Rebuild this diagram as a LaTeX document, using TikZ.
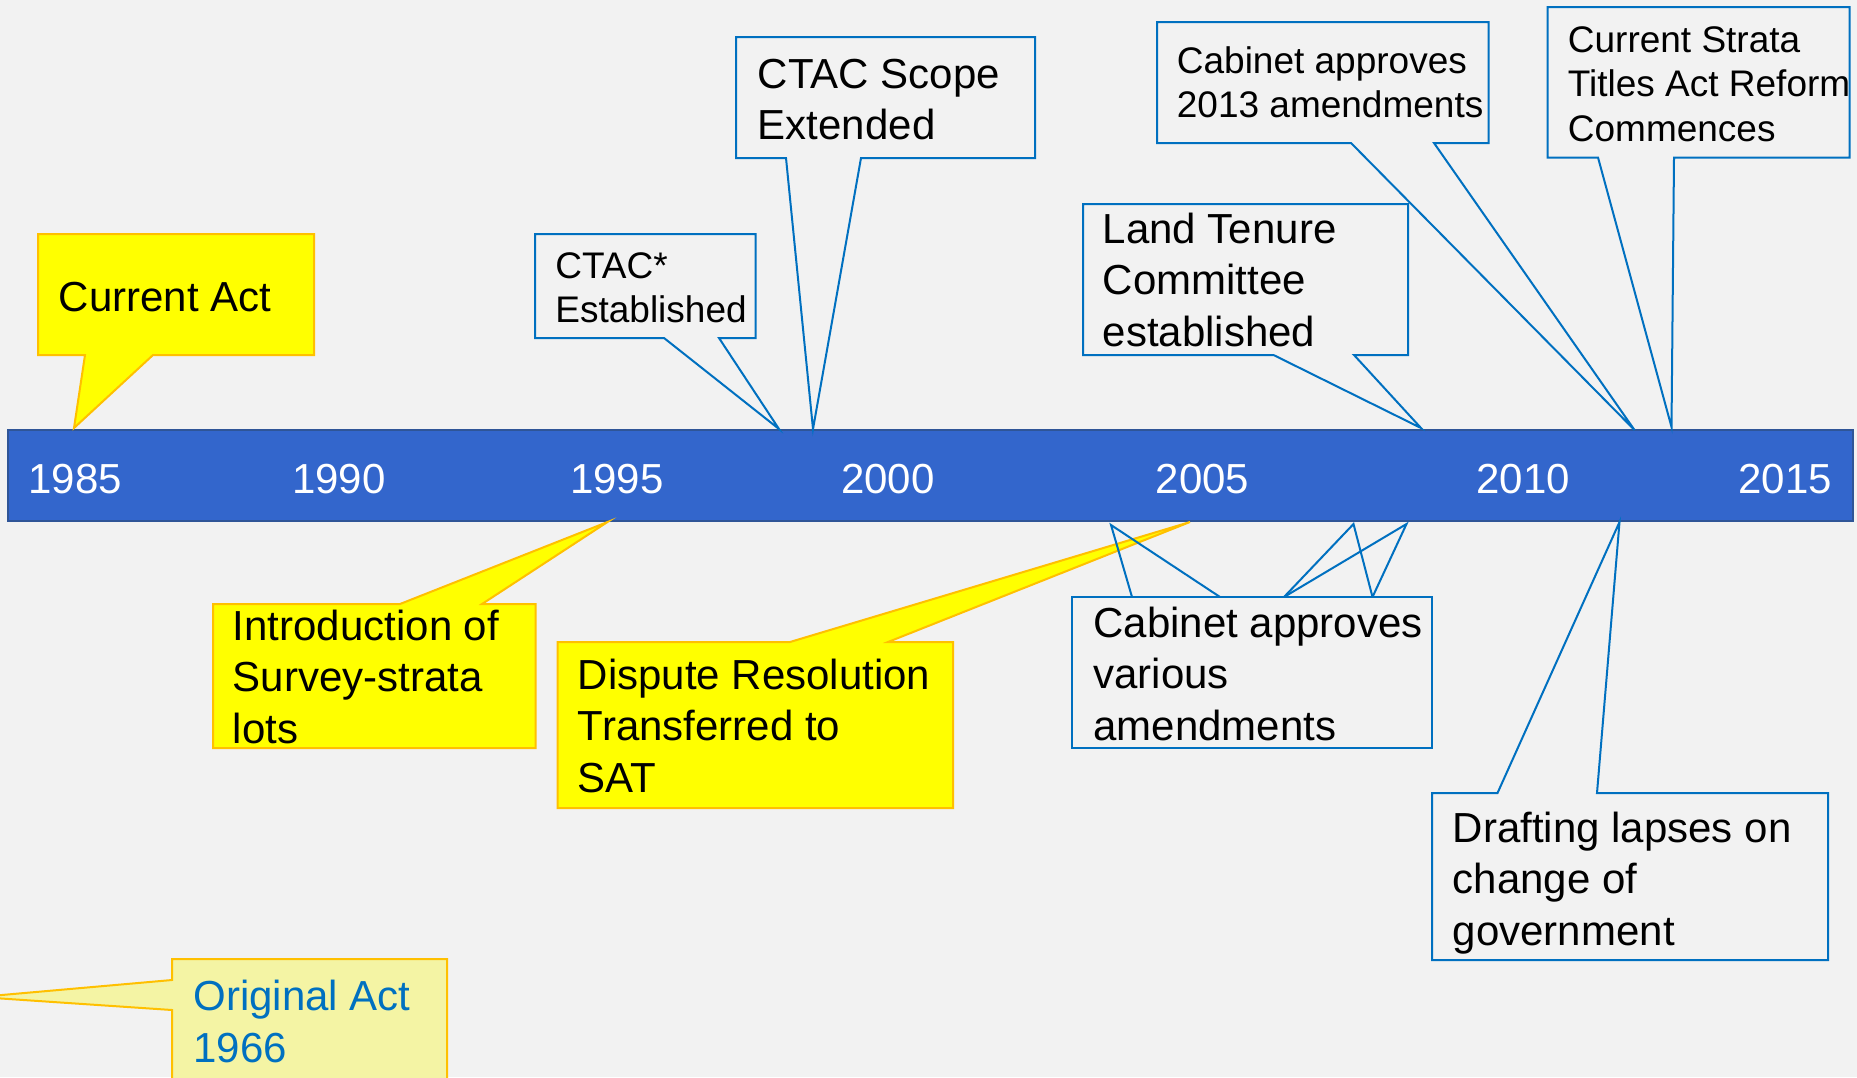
\documentclass[tikz,border=0pt]{standalone}
\usepackage{fontspec}
\setmainfont{Liberation Sans}
\definecolor{bg}{HTML}{F2F2F2}
\definecolor{barfill}{HTML}{3366CC}
\definecolor{baredge}{HTML}{2F5597}
\definecolor{bluel}{HTML}{0070C0}
\definecolor{yel}{HTML}{FFFF00}
\definecolor{yelb}{HTML}{FFC000}
\definecolor{paleyel}{HTML}{F4F4A4}
\newcommand\mlines[1]{\begin{tabular}[t]{@{}l@{}}#1\end{tabular}}
\begin{document}
\begin{tikzpicture}[x=0.5pt,y=-0.5pt,
  big/.style={font=\fontsize{21}{25.75}\selectfont, inner sep=0pt, anchor=base west, text=black},
  small/.style={font=\fontsize{18.5}{22.25}\selectfont, inner sep=0pt, anchor=base west, text=black},
  yearlbl/.style={font=\fontsize{21}{25.25}\selectfont, inner sep=0pt, anchor=base, text=white},
  ycall/.style={fill=yel, draw=yelb, line width=1pt, line join=miter},
  bcall/.style={draw=bluel, line width=1pt, line join=miter},
]
\clip (0,0) rectangle (1857,1077);
\fill[bg] (0,0) rectangle (1857,1077);

% timeline bar
\draw[fill=barfill, draw=baredge, line width=1pt] (8,430) rectangle (1853,521);
\node[yearlbl] (y1985) at (75.3,493) {1985};
\node[yearlbl] (y1990) at (339,493) {1990};
\node[yearlbl] (y1995) at (617,493) {1995};
\node[yearlbl] (y2000) at (888,493) {2000};
\node[yearlbl] (y2005) at (1202.5,493) {2005};
\node[yearlbl] (y2010) at (1523,493) {2010};
\node[yearlbl] (y2015) at (1785,493) {2015};

% yellow callouts
\draw[ycall] (38,234) -- (314,234) -- (314,355) -- (153,355) -- (74,428) -- (85,355) -- (38,355) -- cycle;
\draw[ycall] (213,604) -- (400,604) -- (607.5,522) -- (482,604) -- (535.5,604) -- (535.5,748) -- (213,748) -- cycle;
\draw[ycall] (557.5,642) -- (790,642) -- (1190,522) -- (888,642) -- (953,642) -- (953,808) -- (557.5,808) -- cycle;
\draw[ycall, fill=paleyel] (172,959) -- (447,959) -- (447,1095) -- (172,1095) -- (172,1010) -- (-21,997) -- (172,980) -- cycle;

% blue callouts
\draw[bcall] (535,234) -- (755.5,234) -- (755.5,338) -- (719,338) -- (779,429) -- (664,338) -- (535,338) -- cycle;
\draw[bcall] (736,37) -- (1035,37) -- (1035,158) -- (861,158) -- (813,429) -- (786,158) -- (736,158) -- cycle;
\draw[bcall] (1157,22) -- (1488.5,22) -- (1488.5,143) -- (1434,143) -- (1634.5,430) -- (1351,143) -- (1157,143) -- cycle;
\draw[bcall] (1547.5,7) -- (1849.5,7) -- (1849.5,157.5) -- (1674,157.5) -- (1671.5,427) -- (1598,157.5) -- (1547.5,157.5) -- cycle;
\draw[bcall] (1083,204) -- (1408,204) -- (1408,355) -- (1354,355) -- (1421,428) -- (1273.5,355) -- (1083,355) -- cycle;
\draw[bcall, line width=1.4pt] (1072,597) rectangle (1432,748);
\draw[bcall] (1132,597) -- (1111,525) -- (1220,597);
\draw[bcall] (1284,597) -- (1353.5,524) -- (1372.5,597);
\draw[bcall] (1284,597) -- (1406.5,524) -- (1372.5,597);
\draw[bcall] (1432,793) -- (1497.5,793) -- (1619.5,522) -- (1597,793) -- (1828,793) -- (1828,960) -- (1432,960) -- cycle;

% texts
\node[big] (curact) at (58.5,311) {Current Act};
\node[small] (ctac) at (555,278) {\mlines{CTAC*\\Established}};
\node[big] (scope) at (757.5,88) {\mlines{CTAC Scope\\Extended}};
\node[small] (cab13) at (1176.5,73) {\mlines{Cabinet approves\\2013 amendments}};
\node[small] (strata) at (1567.5,52) {\mlines{Current Strata\\Titles Act Reform\\Commences}};
\node[big] (land) at (1102.5,243) {\mlines{Land Tenure\\Committee\\established}};
\node[big] (intro) at (232.5,640) {\mlines{Introduction of\\Survey-strata\\lots}};
\node[big] (dispute) at (577.5,689) {\mlines{Dispute Resolution\\Transferred to\\SAT}};
\node[big] (various) at (1093,637) {\mlines{Cabinet approves\\various\\amendments}};
\node[big] (drafting) at (1452.5,842) {\mlines{Drafting lapses on\\change of\\government}};
\node[big, text=bluel] (orig) at (193,1010.7) {\mlines{Original Act\\1966}};
\end{tikzpicture}
\end{document}
